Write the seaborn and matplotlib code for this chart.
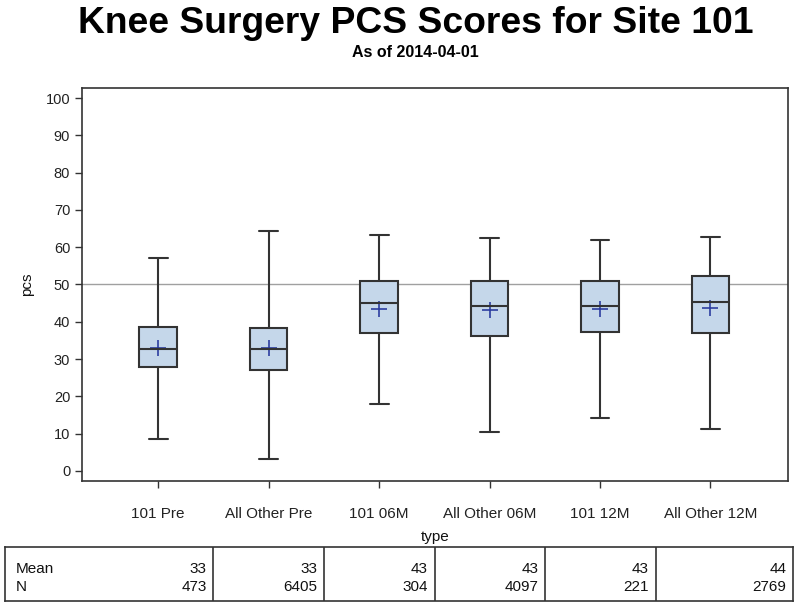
import numpy as np
import pandas as pd
import matplotlib
matplotlib.use("Agg")
import matplotlib.pyplot as plt
import seaborn as sns

# data (five-number summary per group + mean + N)
types = ["101 Pre", "All Other Pre", "101 06M", "All Other 06M", "101 12M", "All Other 12M"]
whisk_low = [8.6, 3.3, 18.0, 10.4, 14.2, 11.3]
q1 = [27.9, 27.1, 37.0, 36.2, 37.3, 36.9]
median = [32.7, 32.7, 45.0, 44.2, 44.2, 45.4]
q3 = [38.6, 38.3, 50.9, 50.9, 50.9, 52.2]
whisk_high = [57.1, 64.3, 63.2, 62.5, 61.9, 62.8]
means = [33.0, 32.9, 43.3, 43.1, 43.4, 43.6]
counts = [473, 6405, 304, 4097, 221, 2769]
ref_value = 50

# five points per group reproduce quartiles exactly; whiskers go to min/max
rows = []
for i, t in enumerate(types):
    for v in [whisk_low[i], q1[i], median[i], q3[i], whisk_high[i]]:
        rows.append({"type": t, "pcs": v})
df = pd.DataFrame(rows)

sns.set_style("white")
plt.rcParams['font.family'] = ['Liberation Sans', 'DejaVu Sans']
plt.rcParams['text.color'] = '#111111'
plt.rcParams['axes.labelcolor'] = '#111111'

fig = plt.figure(figsize=(7.99, 6.09), dpi=100)
ax = fig.add_axes([0.1026, 0.2102, 0.8834, 0.6453])

edge = "#333333"
sns.boxplot(data=df, x="type", y="pcs", order=types, whis=(0, 100), width=0.34,
            color="#c5d7ea", linecolor=edge, linewidth=1.5, saturation=1,
            fliersize=0, ax=ax)
sns.pointplot(x=types, y=means, order=types, linestyle="none", markers="+",
              color="#2d3ea0", errorbar=None, markersize=11, markeredgewidth=1.2,
              ax=ax)
ax.axhline(ref_value, color="#a0a0a0", lw=1, zorder=0)

ax.set_ylim(-2.7, 102.7)
ax.set_xlim(-0.69, 5.70)
ax.set_yticks(range(0, 101, 10))
ax.tick_params(axis="both", direction="out", length=5, width=1, color=edge,
               labelsize=10.5, labelcolor="#222222", left=True, bottom=True)
ax.tick_params(axis="x", labelsize=11, pad=14)
for s in ax.spines.values():
    s.set_color(edge)
    s.set_linewidth(1.2)
ax.set_xlabel("type", fontsize=11, labelpad=6)
ax.set_ylabel("pcs", fontsize=11, labelpad=8)

fig.text(0.52, 0.962, "Knee Surgery PCS Scores for Site 101", ha="center", va="center",
         fontsize=26.8, fontweight="bold", color="black")
fig.text(0.52, 0.914, "As of 2014-04-01", ha="center", va="center",
         fontsize=11.5, fontweight="bold", color="black")

# statistics table under the axis, columns aligned to the categories
tab = fig.add_axes([5 / 799, 1 - 601 / 609, 788 / 799, 54 / 609])
left_edge, right_edge = -1.383, 5.741
tab.set_xlim(left_edge, right_edge)
tab.set_ylim(0, 1)
tab.set_xticks([])
tab.set_yticks([])
for s in tab.spines.values():
    s.set_color(edge)
    s.set_linewidth(1.2)
for k in range(len(types) - 1):
    tab.axvline(k + 0.5, color=edge, lw=1.2)
pad = 0.06
tab.text(left_edge + 0.1, 0.59, "Mean", ha="left", va="center", fontsize=11)
tab.text(left_edge + 0.1, 0.26, "N", ha="left", va="center", fontsize=11)
for k in range(len(types)):
    right = k + 0.5 if k < len(types) - 1 else right_edge
    tab.text(right - pad, 0.59, f"{means[k]:.0f}", ha="right", va="center", fontsize=11)
    tab.text(right - pad, 0.26, f"{counts[k]}", ha="right", va="center", fontsize=11)

fig.savefig("out.png", dpi=100)
